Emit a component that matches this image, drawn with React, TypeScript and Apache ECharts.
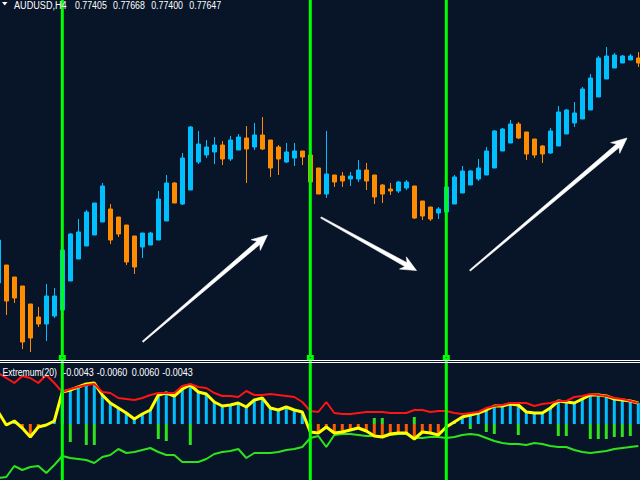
import React, { useEffect, useRef } from 'react';
import * as echarts from 'echarts';

// ---- AUDUSD H4 candles (81 bars, oldest first) ----
const opens = [
  0.76585, 0.76675, 0.76615, 0.7657, 0.7648, 0.76415, 0.7638, 0.7642, 0.7645, 0.76595,
  0.76705, 0.7677, 0.76825, 0.7689, 0.76955, 0.76915, 0.76875, 0.7682, 0.76765, 0.76775,
  0.768, 0.76895, 0.77085, 0.7698, 0.7705, 0.7719, 0.77225, 0.7724, 0.77275, 0.77205,
  0.7725, 0.7731, 0.77265, 0.77325, 0.773, 0.77265, 0.7719, 0.7721, 0.77245, 0.77225,
  0.7716, 0.7703, 0.77125, 0.7712, 0.77105, 0.77105, 0.7715, 0.77125, 0.77075, 0.77055,
  0.77045, 0.7706, 0.7707, 0.76995, 0.76965, 0.76935, 0.7694, 0.7698, 0.77035, 0.77075,
  0.77105, 0.77125, 0.7716, 0.77245, 0.77285, 0.7738, 0.7734, 0.77305, 0.7727, 0.77235,
  0.7727, 0.7733, 0.77385, 0.77405, 0.7745, 0.77515, 0.77605, 0.7766, 0.77685, 0.777,
  0.7771,
];
const closes = [
  0.768, 0.76495, 0.7651, 0.7629, 0.7631, 0.7638, 0.7652, 0.7652, 0.7675, 0.7683,
  0.7684, 0.7694, 0.76985, 0.7707, 0.768, 0.7683, 0.7669, 0.76665, 0.76835, 0.76835,
  0.77005, 0.77085, 0.76985, 0.7721, 0.77365, 0.7728, 0.77265, 0.77275, 0.77205, 0.773,
  0.77315, 0.77255, 0.77325, 0.77255, 0.7716, 0.77205, 0.7724, 0.77245, 0.77215, 0.7709,
  0.7703, 0.7713, 0.7709, 0.77095, 0.7712, 0.7715, 0.77095, 0.77015, 0.7703, 0.77045,
  0.7709, 0.7709, 0.7691, 0.7692, 0.76905, 0.76955, 0.77065, 0.77115, 0.77145, 0.77145,
  0.7716, 0.77245, 0.77345, 0.77355, 0.7738, 0.7731, 0.7723, 0.77225, 0.7723, 0.77345,
  0.7744, 0.7745, 0.77435, 0.77555, 0.7761, 0.7771, 0.7772, 0.77725, 0.7772, 0.7772,
  0.77685,
];
const lows = [
  0.76575, 0.76425, 0.76485, 0.76255, 0.7624, 0.76365, 0.76295, 0.7641, 0.7644, 0.76595,
  0.76705, 0.7677, 0.76825, 0.7689, 0.7678, 0.76815, 0.76675, 0.7663, 0.7671, 0.76775,
  0.768, 0.76895, 0.76985, 0.76975, 0.7705, 0.7718, 0.7721, 0.7718, 0.77175, 0.77195,
  0.7725, 0.77085, 0.7725, 0.7725, 0.77115, 0.77125, 0.77185, 0.7717, 0.77175, 0.7709,
  0.7703, 0.7701, 0.77065, 0.77065, 0.7707, 0.7709, 0.7705, 0.7698, 0.76985, 0.77025,
  0.77035, 0.7705, 0.76905, 0.769, 0.76895, 0.76905, 0.7694, 0.7698, 0.77035, 0.77075,
  0.77095, 0.77125, 0.7716, 0.77245, 0.77285, 0.77305, 0.772, 0.7721, 0.77185, 0.7723,
  0.7727, 0.7733, 0.77365, 0.77405, 0.7745, 0.77515, 0.77605, 0.7766, 0.77685, 0.777,
  0.77665,
];
const highs = [
  0.7681, 0.76675, 0.76615, 0.7657, 0.7648, 0.76465, 0.7658, 0.7656, 0.7676, 0.76835,
  0.76905, 0.7695, 0.76985, 0.77085, 0.7698, 0.76915, 0.76875, 0.7682, 0.76835, 0.7684,
  0.77045, 0.77125, 0.7709, 0.77235, 0.7737, 0.77345, 0.773, 0.77315, 0.77295, 0.7732,
  0.7733, 0.7737, 0.77385, 0.77415, 0.773, 0.77275, 0.77285, 0.77285, 0.77245, 0.77225,
  0.7716, 0.77345, 0.77125, 0.7714, 0.7714, 0.772, 0.77185, 0.77125, 0.7708, 0.77085,
  0.77095, 0.771, 0.7707, 0.76995, 0.76965, 0.76965, 0.77065, 0.77125, 0.7717, 0.7715,
  0.77205, 0.77265, 0.7735, 0.7736, 0.774, 0.7739, 0.7734, 0.77305, 0.77275, 0.7736,
  0.7747, 0.77455, 0.7749, 0.77565, 0.7763, 0.7772, 0.77765, 0.77735, 0.77725, 0.7773,
  0.7774,
];

// ---- Extremum(20) indicator ----
const upperLine = [
  0.0051, 0.0046, 0.0041, 0.0048, 0.0046, 0.0041, 0.0049, 0.0041, 0.0032, 0.0035,
  0.0037, 0.0039, 0.004, 0.0032, 0.0031, 0.0026, 0.0025, 0.0024, 0.0026, 0.0029,
  0.0031, 0.0031, 0.0031, 0.0038, 0.004, 0.0037, 0.0036, 0.0031, 0.0028, 0.0028,
  0.0027, 0.0033, 0.0029, 0.0029, 0.003, 0.0029, 0.0028, 0.0027, 0.0022, 0.0013,
  0.0012, 0.0022, 0.0011, 0.001, 0.001, 0.0011, 0.0012, 0.0012, 0.0012, 0.0011,
  0.0011, 0.0011, 0.0014, 0.0014, 0.0012, 0.0013, 0.0013, 0.0011, 0.001, 0.0011,
  0.0012, 0.0016, 0.0018, 0.0019, 0.0021, 0.0021, 0.0021, 0.0018, 0.002, 0.0021,
  0.0023, 0.0023, 0.0027, 0.0028, 0.003, 0.0029, 0.0028, 0.0026, 0.0025, 0.0023,
  0.0021,
];
const mainLine = [
  0.0012, -0.0001, 0.0003, -0.0004, -0.0013, -0.0003, -0.0001, 0.0003, 0.0032, 0.0034,
  0.0037, 0.004, 0.0041, 0.0029, 0.0021, 0.0016, 0.0011, 0.0005, 0.001, 0.0014,
  0.0029, 0.0031, 0.0028, 0.0035, 0.0039, 0.0032, 0.003, 0.0022, 0.0018, 0.0019,
  0.0021, 0.0017, 0.0024, 0.0026, 0.0016, 0.0014, 0.0017, 0.0014, 0.0012, -0.0008,
  -0.0009, -0.0003, -0.0009, -0.0008, -0.0006, -0.0004, -0.0007, -0.0012, -0.0013, -0.001,
  -0.0009, -0.0009, -0.0015, -0.0008, -0.0009, -0.0011, -0.0003, 0.0002, 0.0007, 0.0009,
  0.0011, 0.0014, 0.0018, 0.0018, 0.002, 0.0019, 0.0012, 0.0011, 0.0011, 0.0016,
  0.0023, 0.0022, 0.0021, 0.0025, 0.0029, 0.0029, 0.0028, 0.0025, 0.0024, 0.0023,
  0.0021,
];
const lowerLine = [
  -0.0054, -0.0053, -0.0042, -0.0046, -0.0043, -0.0042, -0.0049, -0.0041, -0.0032, -0.0034,
  -0.0035, -0.0036, -0.0039, -0.0033, -0.0031, -0.0025, -0.0029, -0.0028, -0.0026, -0.0024,
  -0.0028, -0.0031, -0.0031, -0.0038, -0.0038, -0.0038, -0.0035, -0.003, -0.0028, -0.0027,
  -0.0025, -0.0034, -0.0029, -0.0029, -0.0029, -0.0028, -0.0026, -0.0025, -0.0023, -0.0014,
  -0.0012, -0.0023, -0.0011, -0.001, -0.001, -0.0011, -0.0012, -0.0012, -0.0012, -0.0011,
  -0.001, -0.001, -0.0014, -0.0014, -0.0013, -0.0013, -0.0014, -0.0013, -0.0011, -0.001,
  -0.0011, -0.0014, -0.0017, -0.0019, -0.002, -0.002, -0.0021, -0.0019, -0.002, -0.0022,
  -0.0023, -0.0023, -0.0026, -0.0028, -0.0029, -0.0028, -0.0027, -0.0025, -0.0024, -0.0023,
  -0.0022,
];
const n = null;
const signalBars = [
  n, n, n, n, n, n, n, n, n, -0.0018,
  n, -0.0021, -0.0021, n, n, n, n, n, n, n,
  -0.0015, -0.0017, n, n, -0.0021, n, n, n, n, n,
  n, n, n, n, n, n, n, n, n, n,
  n, n, n, n, n, n, n, 0.0006, 0.0006, n,
  n, n, 0.0007, n, n, n, n, n, n, -0.0005,
  n, -0.0008, -0.001, n, n, -0.0011, n, n, n, n,
  -0.0012, -0.0012, n, n, -0.0015, -0.0015, -0.0015, -0.0013, -0.0013, -0.0012,
  n,
];
const markerBars = [8, 39, 56];

const symbolName = 'AUDUSD,H4';
const quoteValues = ['0.77405', '0.77668', '0.77400', '0.77647'];
const indicatorName = 'Extremum(20)';
const indicatorValues = ['-0.0043', '-0.0060', '0.0060', '-0.0043'];

const categories = opens.map((_, i) => String(i + 1));

const BG = '#081528';
const BLUE = '#00bfff';
const ORANGE = '#ff8c00';
const FONT = '11px "Liberation Sans", Arial, sans-serif';

function arrowPoints(x1: number, y1: number, x2: number, y2: number) {
  const dx = x2 - x1;
  const dy = y2 - y1;
  const len = Math.hypot(dx, dy);
  const ux = dx / len, uy = dy / len;
  const nx = -uy, ny = ux;
  const p = (along: number, side: number) => [x2 + ux * along + nx * side, y2 + uy * along + ny * side];
  return [
    [x1 + nx * 0.7, y1 + ny * 0.7],
    p(-12, 2.2),
    p(-15.5, 7),
    [x2, y2],
    p(-15.5, -7),
    p(-12, -2.2),
    [x1 - nx * 0.7, y1 - ny * 0.7],
  ];
}

export default function App() {
  const ref = useRef<HTMLDivElement>(null);
  useEffect(() => {
    document.body.style.margin = '0';
    const chart = echarts.init(ref.current!, undefined, { renderer: 'svg' });
    const ohlc = opens.map((o, i) => [o, closes[i], lows[i], highs[i]]);
    chart.setOption({
      animation: false,
      backgroundColor: BG,
      grid: [
        { left: -5.7, width: 648, top: 0, height: 358, outerBoundsMode: 'none', containLabel: false },
        { left: -5.7, width: 648, top: 362, height: 118, outerBoundsMode: 'none', containLabel: false },
      ],
      xAxis: [
        { type: 'category', gridIndex: 0, data: categories, show: false },
        { type: 'category', gridIndex: 1, data: categories, show: false },
      ],
      yAxis: [
        { type: 'value', gridIndex: 0, min: 0.7621, max: 0.78, show: false },
        { type: 'value', gridIndex: 1, min: -0.0056, max: 0.0062, show: false },
      ],
      series: [
        {
          type: 'candlestick',
          xAxisIndex: 0,
          yAxisIndex: 0,
          data: ohlc,
          barWidth: 4,
          itemStyle: {
            color: BLUE,
            color0: ORANGE,
            borderColor: BLUE,
            borderColor0: ORANGE,
            borderWidth: 1,
          },
        },
        {
          type: 'bar',
          xAxisIndex: 1,
          yAxisIndex: 1,
          data: mainLine,
          barWidth: 3,
          z: 2,
          itemStyle: {
            color: (p: any) => (p.value >= 0 ? BLUE : '#ff5a00'),
          },
        },
        {
          type: 'bar',
          xAxisIndex: 1,
          yAxisIndex: 1,
          data: signalBars,
          barWidth: 3,
          barGap: '-100%',
          z: 2,
          itemStyle: { color: '#2ee21e' },
        },
        {
          type: 'line',
          xAxisIndex: 1,
          yAxisIndex: 1,
          data: lowerLine,
          symbol: 'none',
          z: 3,
          lineStyle: { color: '#2ee21e', width: 2 },
        },
        {
          type: 'line',
          xAxisIndex: 1,
          yAxisIndex: 1,
          data: mainLine,
          symbol: 'none',
          z: 4,
          lineStyle: { color: '#ffff00', width: 3 },
        },
        {
          type: 'line',
          xAxisIndex: 1,
          yAxisIndex: 1,
          data: upperLine,
          symbol: 'none',
          z: 5,
          lineStyle: { color: '#ff1414', width: 2 },
        },
      ],
    });

    const xs = markerBars.map((i) => chart.convertToPixel({ xAxisIndex: 0 }, i) as number);
    const graphics: any[] = [];
    xs.forEach((x) => {
      graphics.push({
        type: 'line',
        z: 100,
        shape: { x1: x, y1: 0, x2: x, y2: 480 },
        style: { stroke: '#00ff00', lineWidth: 3 },
      });
      graphics.push({
        type: 'rect',
        z: 100,
        shape: { x: x - 3.5, y: 355, width: 7, height: 5 },
        style: { fill: '#00ff00' },
      });
      graphics.push({
        type: 'rect',
        z: 101,
        shape: { x: x - 0.5, y: 357, width: 1, height: 1 },
        style: { fill: BG },
      });
    });
    graphics.push(
      { type: 'line', z: 102, shape: { x1: 0, y1: 360.5, x2: 640, y2: 360.5 }, style: { stroke: '#ffffff', lineWidth: 1 } },
      { type: 'line', z: 102, shape: { x1: 0, y1: 362.5, x2: 640, y2: 362.5 }, style: { stroke: '#ffffff', lineWidth: 1 } },
    );
    const arrows = [
      [142.7, 341.7, 267.5, 235],
      [321, 217.5, 416.5, 270.5],
      [470, 270.5, 627, 138],
    ];
    arrows.forEach(([a, b, c, d]) => {
      graphics.push({
        type: 'polygon',
        z: 103,
        shape: { points: arrowPoints(a, b, c, d) },
        style: { fill: '#ffffff', stroke: '#ffffff', lineWidth: 0.6 },
      });
    });
    // header
    graphics.push({
      type: 'polygon',
      z: 103,
      shape: { points: [[2, 2], [7.5, 2], [4.75, 5.5]] },
      style: { fill: '#ffffff' },
    });
    graphics.push({
      type: 'text', z: 103, x: 14, y: 5.2, scaleX: 0.83,
      style: { text: symbolName, fill: '#ffffff', font: FONT, align: 'left', verticalAlign: 'middle' },
    });
    quoteValues.forEach((v, i) => {
      graphics.push({
        type: 'text', z: 103, x: 75 + 38.1 * i, y: 5.2, scaleX: 0.8,
        style: { text: v, fill: '#ffffff', font: FONT, align: 'left', verticalAlign: 'middle' },
      });
    });
    const indX = [63.3, 96.7, 131.7, 162.3];
    graphics.push({
      type: 'text', z: 103, x: 2.5, y: 371.7, scaleX: 0.78,
      style: { text: indicatorName, fill: '#ffffff', font: FONT, align: 'left', verticalAlign: 'middle' },
    });
    indicatorValues.forEach((v, i) => {
      graphics.push({
        type: 'text', z: 103, x: indX[i], y: 371.7, scaleX: 0.82,
        style: { text: v, fill: '#ffffff', font: FONT, align: 'left', verticalAlign: 'middle' },
      });
    });
    chart.setOption({ graphic: graphics });
    return () => chart.dispose();
  }, []);
  return <div ref={ref} style={{ position: 'fixed', left: 0, top: 0, width: 640, height: 480 }} />;
}
